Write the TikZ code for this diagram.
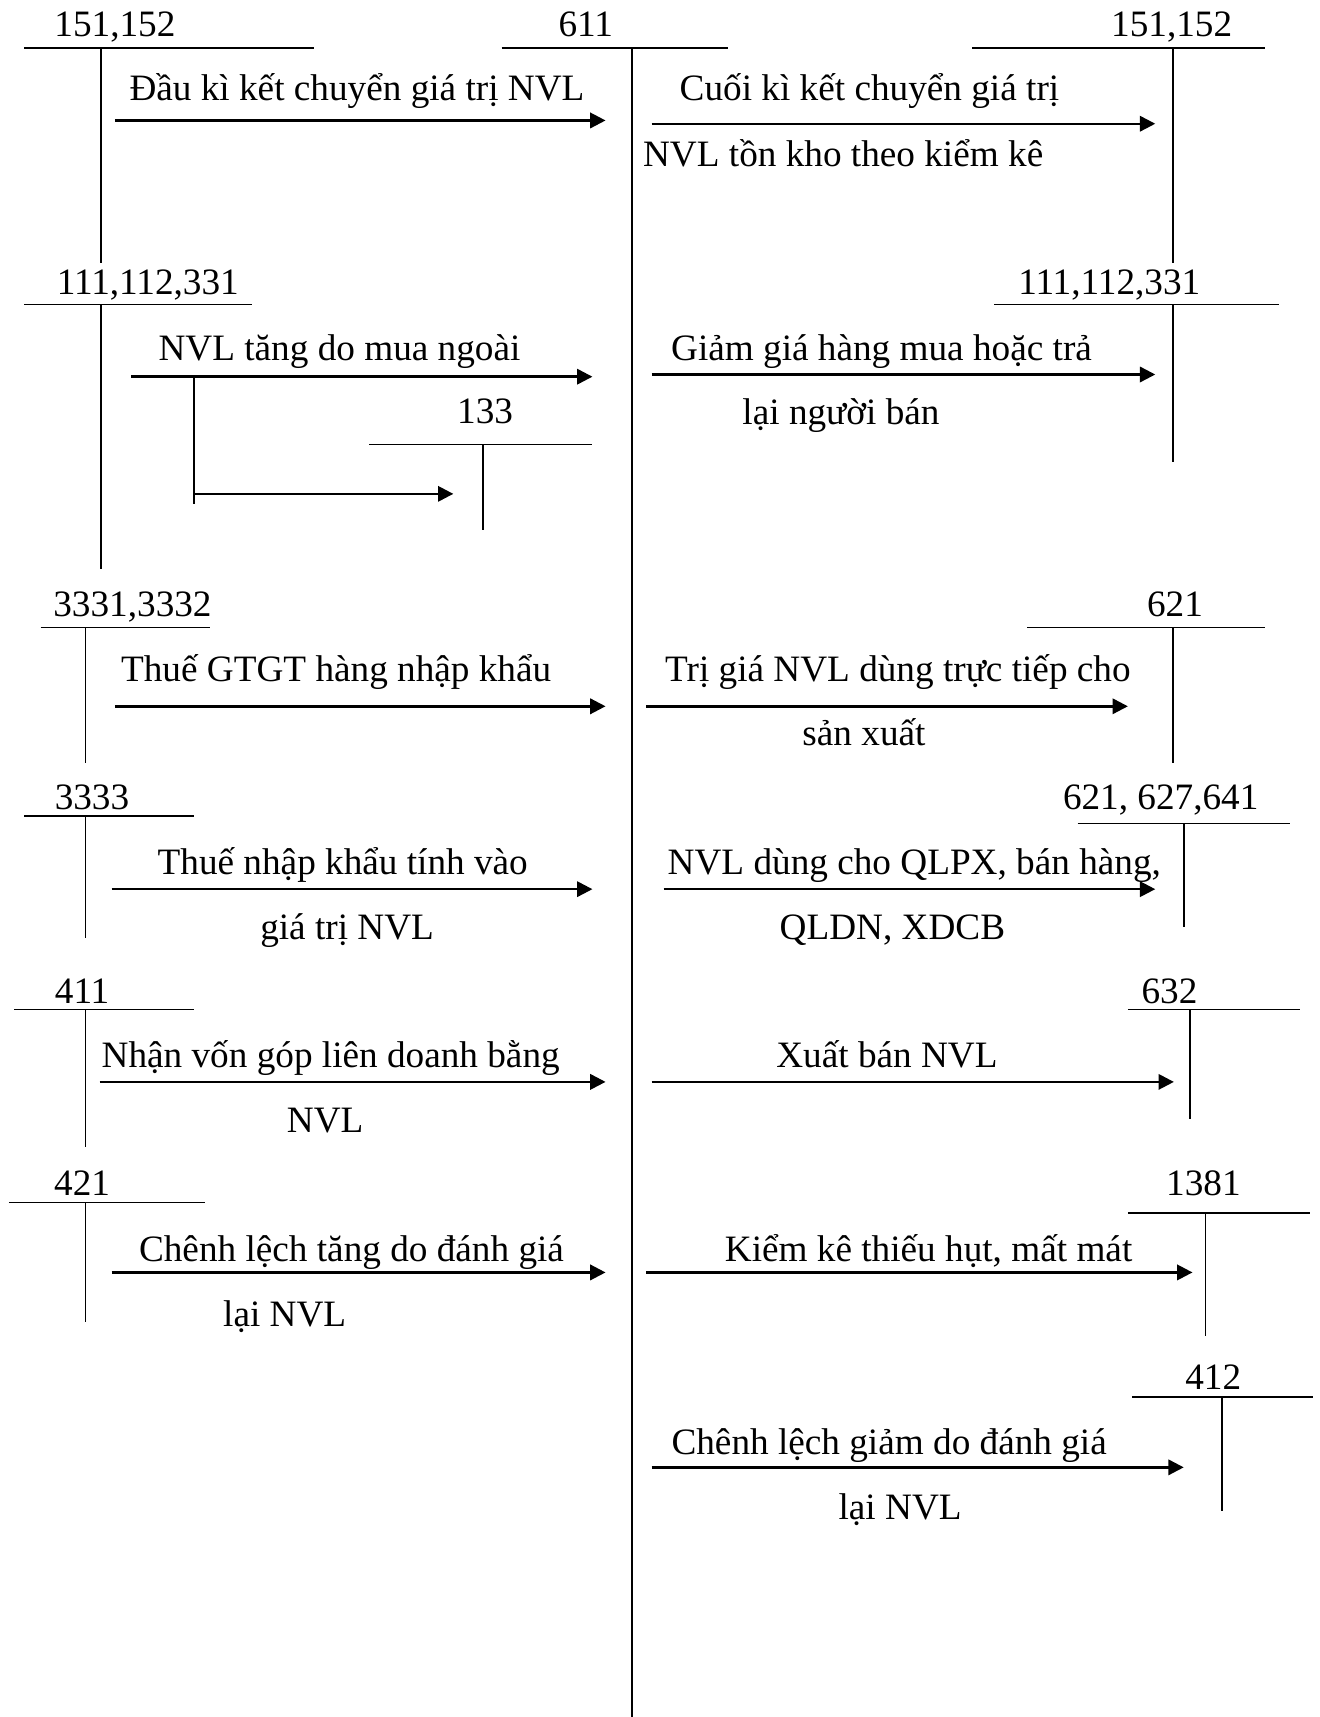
\documentclass[tikz,border=0pt]{standalone}
\usepackage{fontspec}
\setmainfont{Liberation Serif}
\usetikzlibrary{arrows.meta}
\newcommand\labfont{\fontsize{34}{40}\selectfont}
\begin{document}
\begin{tikzpicture}[x=1pt,y=-1pt,
  lab/.style={anchor=base, inner sep=0pt, font=\labfont},
  tline/.style={line width=1.5pt},
  flow/.style={line width=2.2pt, -{Triangle[length=14pt,width=14pt]}}]
\useasboundingbox[fill=white] (0,0) rectangle (1205,1568);

% ---- central account 611
\coordinate (c611a) at (458,44); \coordinate (c611b) at (665,44);
\coordinate (c611t) at (577,44); \coordinate (c611e) at (577,1568);
\draw[tline] (c611a) -- (c611b); \draw[tline] (c611t) -- (c611e);
\node[lab] (n611) at (535,33) {611};

% ---- T accounts (left)
\coordinate (l1a) at (22,44); \coordinate (l1b) at (287,44); \coordinate (l1t) at (92,44); \coordinate (l1e) at (92,240);
\draw[tline] (l1a) -- (l1b); \draw[tline] (l1t) -- (l1e);
\node[lab] (nl1) at (105,33) {151,152};

\coordinate (l2a) at (22,278); \coordinate (l2b) at (230,278); \coordinate (l2t) at (92,278); \coordinate (l2e) at (92,520);
\draw[tline] (l2a) -- (l2b); \draw[tline] (l2t) -- (l2e);
\node[lab] (nl2) at (135,269) {111,112,331};

\coordinate (k1a) at (337,406); \coordinate (k1b) at (541,406); \coordinate (k1t) at (441,406); \coordinate (k1e) at (441,484);
\draw[tline] (k1a) -- (k1b); \draw[tline] (k1t) -- (k1e);
\node[lab] (nk1) at (443,387) {133};

\coordinate (l3a) at (37,573); \coordinate (l3b) at (192,573); \coordinate (l3t) at (78,573); \coordinate (l3e) at (78,697);
\draw[tline] (l3a) -- (l3b); \draw[tline] (l3t) -- (l3e);
\node[lab] (nl3) at (121,563) {3331,3332};

\coordinate (l4a) at (22,745); \coordinate (l4b) at (177,745); \coordinate (l4t) at (78,745); \coordinate (l4e) at (78,857);
\draw[tline] (l4a) -- (l4b); \draw[tline] (l4t) -- (l4e);
\node[lab] (nl4) at (84,739) {3333};

\coordinate (l5a) at (13,922); \coordinate (l5b) at (177,922); \coordinate (l5t) at (78,922); \coordinate (l5e) at (78,1047);
\draw[tline] (l5a) -- (l5b); \draw[tline] (l5t) -- (l5e);
\node[lab] (nl5) at (75,916) {411};

\coordinate (l6a) at (8,1098); \coordinate (l6b) at (187,1098); \coordinate (l6t) at (78,1098); \coordinate (l6e) at (78,1207);
\draw[tline] (l6a) -- (l6b); \draw[tline] (l6t) -- (l6e);
\node[lab] (nl6) at (75,1092) {421};

% ---- T accounts (right)
\coordinate (r1a) at (888,44); \coordinate (r1b) at (1155,44); \coordinate (r1t) at (1071,44); \coordinate (r1e) at (1071,240);
\draw[tline] (r1a) -- (r1b); \draw[tline] (r1t) -- (r1e);
\node[lab] (nr1) at (1070,33) {151,152};

\coordinate (r2a) at (908,278); \coordinate (r2b) at (1168,278); \coordinate (r2t) at (1071,278); \coordinate (r2e) at (1071,422);
\draw[tline] (r2a) -- (r2b); \draw[tline] (r2t) -- (r2e);
\node[lab] (nr2) at (1013,269) {111,112,331};

\coordinate (r3a) at (938,573); \coordinate (r3b) at (1155,573); \coordinate (r3t) at (1071,573); \coordinate (r3e) at (1071,697);
\draw[tline] (r3a) -- (r3b); \draw[tline] (r3t) -- (r3e);
\node[lab] (nr3) at (1073,563) {621};

\coordinate (r4a) at (984,752); \coordinate (r4b) at (1178,752); \coordinate (r4t) at (1081,752); \coordinate (r4e) at (1081,847);
\draw[tline] (r4a) -- (r4b); \draw[tline] (r4t) -- (r4e);
\node[lab] (nr4) at (1060,739) {621, 627,641};

\coordinate (r5a) at (1030,922); \coordinate (r5b) at (1187,922); \coordinate (r5t) at (1087,922); \coordinate (r5e) at (1087,1022);
\draw[tline] (r5a) -- (r5b); \draw[tline] (r5t) -- (r5e);
\node[lab] (nr5) at (1068,916) {632};

\coordinate (r6a) at (1030,1108); \coordinate (r6b) at (1196,1108); \coordinate (r6t) at (1101,1108); \coordinate (r6e) at (1101,1220);
\draw[tline] (r6a) -- (r6b); \draw[tline] (r6t) -- (r6e);
\node[lab] (nr6) at (1099,1092) {1381};

\coordinate (r7a) at (1034,1276); \coordinate (r7b) at (1199,1276); \coordinate (r7t) at (1116,1276); \coordinate (r7e) at (1116,1380);
\draw[tline] (r7a) -- (r7b); \draw[tline] (r7t) -- (r7e);
\node[lab] (nr7) at (1108,1269) {412};

% ---- flows left -> 611
\coordinate (a1s) at (105,110); \coordinate (a1e) at (553,110);
\draw[flow] (a1s) -- (a1e);
\node[lab] (t1) at (326,92) {Đầu kì kết chuyển giá trị NVL};

\coordinate (a3s) at (120,344); \coordinate (a3e) at (541,344);
\draw[flow] (a3s) -- (a3e);
\node[lab] (t3) at (310,329) {NVL tăng do mua ngoài};
\coordinate (b1) at (177,344); \coordinate (b2) at (177,460); \coordinate (b3) at (177,451); \coordinate (b4) at (414,451);
\draw[tline] (b1) -- (b2);
\draw[flow] (b3) -- (b4);

\coordinate (a5s) at (105,645); \coordinate (a5e) at (553,645);
\draw[flow] (a5s) -- (a5e);
\node[lab] (t5) at (307,622) {Thuế GTGT hàng nhập khẩu};

\coordinate (a7s) at (102,812); \coordinate (a7e) at (541,812);
\draw[flow] (a7s) -- (a7e);
\node[lab] (t7) at (313,799) {Thuế nhập khẩu tính vào};
\node[lab] (t7b) at (317,858) {giá trị NVL};

\coordinate (a9s) at (91,988); \coordinate (a9e) at (553,988);
\draw[flow] (a9s) -- (a9e);
\node[lab] (t9) at (302,975) {Nhận vốn góp liên doanh bằng};
\node[lab] (t9b) at (297,1034) {NVL};

\coordinate (a11s) at (102,1162); \coordinate (a11e) at (553,1162);
\draw[flow] (a11s) -- (a11e);
\node[lab] (t11) at (321,1152) {Chênh lệch tăng do đánh giá};
\node[lab] (t11b) at (260,1211) {lại NVL};

% ---- flows 611 -> right
\coordinate (a2s) at (595,113); \coordinate (a2e) at (1055,113);
\draw[flow] (a2s) -- (a2e);
\node[lab] (t2) at (794,92) {Cuối kì kết chuyển giá trị};
\node[lab] (t2b) at (770,152) {NVL tồn kho theo kiểm kê};

\coordinate (a4s) at (595,342); \coordinate (a4e) at (1055,342);
\draw[flow] (a4s) -- (a4e);
\node[lab] (t4) at (805,329) {Giảm giá hàng mua hoặc trả};
\node[lab] (t4b) at (768,388) {lại người bán};

\coordinate (a6s) at (590,645); \coordinate (a6e) at (1030,645);
\draw[flow] (a6s) -- (a6e);
\node[lab] (t6) at (820,622) {Trị giá NVL dùng trực tiếp cho};
\node[lab] (t6b) at (789,681) {sản xuất};

\coordinate (a8s) at (606,812); \coordinate (a8e) at (1055,812);
\draw[flow] (a8s) -- (a8e);
\node[lab] (t8) at (835,799) {NVL dùng cho QLPX, bán hàng,};
\node[lab] (t8b) at (815,858) {QLDN, XDCB};

\coordinate (a10s) at (595,988); \coordinate (a10e) at (1072,988);
\draw[flow] (a10s) -- (a10e);
\node[lab] (t10) at (810,975) {Xuất bán NVL};

\coordinate (a12s) at (590,1162); \coordinate (a12e) at (1089,1162);
\draw[flow] (a12s) -- (a12e);
\node[lab] (t12) at (848,1152) {Kiểm kê thiếu hụt, mất mát};

\coordinate (a13s) at (595,1340); \coordinate (a13e) at (1081,1340);
\draw[flow] (a13s) -- (a13e);
\node[lab] (t13) at (812,1328) {Chênh lệch giảm do đánh giá};
\node[lab] (t13b) at (822,1388) {lại NVL};
\end{tikzpicture}
\end{document}
